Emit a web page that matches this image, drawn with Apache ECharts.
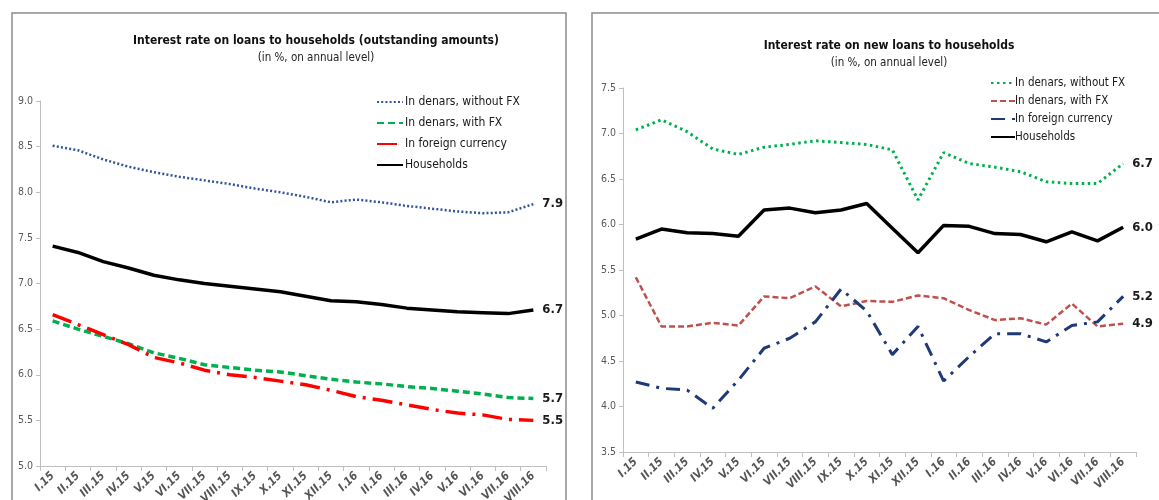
<!DOCTYPE html>
<html>
<head>
<meta charset="utf-8">
<script src="https://cdn.jsdelivr.net/npm/echarts@6/dist/echarts.min.js"></script>
<style>
html,body{margin:0;padding:0;background:#fff;}
#c{width:1159px;height:500px;}
</style>
</head>
<body>
<div id="c"></div>
<script>
var categories = ["I.15","II.15","III.15","IV.15","V.15","VI.15","VII.15","VIII.15","IX.15","X.15","XI.15","XII.15","I.16","II.16","III.16","IV.16","V.16","VI.16","VII.16","VIII.16"];

var leftWithoutFX  = [8.51,8.46,8.36,8.28,8.22,8.17,8.13,8.09,8.04,8.00,7.95,7.89,7.92,7.89,7.85,7.82,7.79,7.77,7.78,7.87];
var leftWithFX     = [6.59,6.50,6.42,6.34,6.24,6.18,6.11,6.08,6.05,6.03,5.99,5.95,5.92,5.90,5.87,5.85,5.82,5.79,5.75,5.74];
var leftForeign    = [6.66,6.55,6.44,6.33,6.19,6.13,6.05,6.00,5.97,5.93,5.89,5.83,5.76,5.72,5.67,5.62,5.58,5.56,5.51,5.50];
var leftHouseholds = [7.41,7.34,7.24,7.17,7.09,7.04,7.00,6.97,6.94,6.91,6.86,6.81,6.80,6.77,6.73,6.71,6.69,6.68,6.67,6.71];

var rightWithoutFX  = [7.04,7.15,7.02,6.83,6.77,6.85,6.88,6.92,6.90,6.88,6.82,6.27,6.79,6.67,6.63,6.58,6.47,6.45,6.45,6.67];
var rightWithFX     = [5.42,4.88,4.88,4.92,4.89,5.21,5.19,5.32,5.10,5.16,5.15,5.22,5.19,5.06,4.95,4.97,4.90,5.13,4.88,4.91];
var rightForeign    = [4.27,4.20,4.18,3.98,4.29,4.64,4.75,4.93,5.29,5.05,4.57,4.88,4.28,4.55,4.80,4.80,4.71,4.89,4.93,5.21];
var rightHouseholds = [5.84,5.95,5.91,5.90,5.87,6.16,6.18,6.13,6.16,6.23,5.96,5.69,5.99,5.98,5.90,5.89,5.81,5.92,5.82,5.97];

var seriesNames = ["In denars, without FX","In denars, with FX","In foreign currency","Households"];
var leftTitle = "Interest rate on loans to households (outstanding amounts)";
var rightTitle = "Interest rate on new loans to households";
var subTitle = "(in %, on annual level)";

var FONT = '"Liberation Sans Narrow","DejaVu Sans Condensed","Arial Narrow",sans-serif';

var chart = echarts.init(document.getElementById('c'));

function xAxis(gi){
  return {
    type:'category', gridIndex:gi, data:categories, boundaryGap:true,
    axisLine:{show:true,lineStyle:{color:'#bfbfbf',width:1}},
    axisTick:{show:true,length:5,lineStyle:{color:'#bfbfbf'}},
    axisLabel:{interval:0,rotate:45,color:'#555555',fontFamily:FONT,fontSize:11.5,fontWeight:'bold',fontStyle:'italic',margin:8,hideOverlap:false},
    splitLine:{show:false}
  };
}
function yAxis(gi,min,max){
  return {
    type:'value', gridIndex:gi, min:min, max:max, interval:0.5,
    axisLine:{show:true,lineStyle:{color:'#bfbfbf',width:1}},
    axisTick:{show:true,length:4,lineStyle:{color:'#bfbfbf'}},
    axisLabel:{color:'#595959',fontFamily:FONT,fontSize:10.5,margin:7,formatter:function(v){return v.toFixed(1);}},
    splitLine:{show:false}
  };
}
function endLabel(){
  return {show:true,distance:9,fontFamily:FONT,fontSize:13,fontWeight:'bold',color:'#1a1a1a',
    formatter:function(p){return (Math.round(p.value*10)/10).toFixed(1);}};
}
function line(name,data,xi,color,width,dash,z){
  return {
    name:name,type:'line',xAxisIndex:xi,yAxisIndex:xi,data:data,
    symbol:'none',showSymbol:false,smooth:false,z:z||2,
    lineStyle:{color:color,width:width,type:dash},
    itemStyle:{color:color},
    endLabel:endLabel(),
    emphasis:{disabled:true},
    silent:true
  };
}

var option = {
  animation:false,
  backgroundColor:'#fff',
  graphic:[
    {type:'rect',shape:{x:12,y:13,width:554,height:520},style:{fill:'none',stroke:'#8c8c8c',lineWidth:1.5},silent:true},
    {type:'rect',shape:{x:592,y:13,width:600,height:520},style:{fill:'none',stroke:'#8c8c8c',lineWidth:1.5},silent:true}
  ],
  title:[
    {text:leftTitle,subtext:subTitle,left:311,top:30,textAlign:'center',itemGap:5,
     textStyle:{fontFamily:FONT,fontSize:12,fontWeight:'bold',color:'#111'},
     subtextStyle:{fontFamily:FONT,fontSize:11.5,color:'#222'}},
    {text:rightTitle,subtext:subTitle,left:884,top:35,textAlign:'center',itemGap:5,
     textStyle:{fontFamily:FONT,fontSize:12,fontWeight:'bold',color:'#111'},
     subtextStyle:{fontFamily:FONT,fontSize:11.5,color:'#222'}}
  ],
  legend:[
    {orient:'vertical',left:371,top:91,itemWidth:26,itemHeight:12,itemGap:9,
     itemStyle:{opacity:0},
     data:seriesNames.map(function(n){return {name:n+' '};}),
     textStyle:{fontFamily:FONT,fontSize:12,color:'#1a1a1a',padding:[0,0,0,-3]},selectedMode:false},
    {orient:'vertical',left:985,top:72,itemWidth:24,itemHeight:10,itemGap:6,
     itemStyle:{opacity:0},
     data:seriesNames,
     textStyle:{fontFamily:FONT,fontSize:11.5,color:'#1a1a1a',padding:[0,0,0,-5]},selectedMode:false}
  ],
  grid:[
    {left:40,right:613,top:101,bottom:34,containLabel:false,outerBoundsMode:'none'},
    {left:623,right:23,top:88,bottom:48,containLabel:false,outerBoundsMode:'none'}
  ],
  xAxis:[xAxis(0),xAxis(1)],
  yAxis:[yAxis(0,5,9),yAxis(1,3.5,7.5)],
  series:[
    line(seriesNames[0]+' ',leftWithoutFX,0,'#2F5597',2.5,[2,2.2]),
    line(seriesNames[1]+' ',leftWithFX,0,'#00B050',3.5,[7,4]),
    line(seriesNames[2]+' ',leftForeign,0,'#FF0000',3.5,[20,7,3,7]),
    line(seriesNames[3]+' ',leftHouseholds,0,'#000000',3.5,'solid',3),
    line(seriesNames[0],rightWithoutFX,1,'#00B050',3,[2.5,3.5]),
    line(seriesNames[1],rightWithFX,1,'#C0504D',2.5,[6,3]),
    line(seriesNames[2],rightForeign,1,'#1F3A77',3,[14,7,3,7]),
    line(seriesNames[3],rightHouseholds,1,'#000000',3.5,'solid',3)
  ]
};
chart.setOption(option);
</script>
</body>
</html>
